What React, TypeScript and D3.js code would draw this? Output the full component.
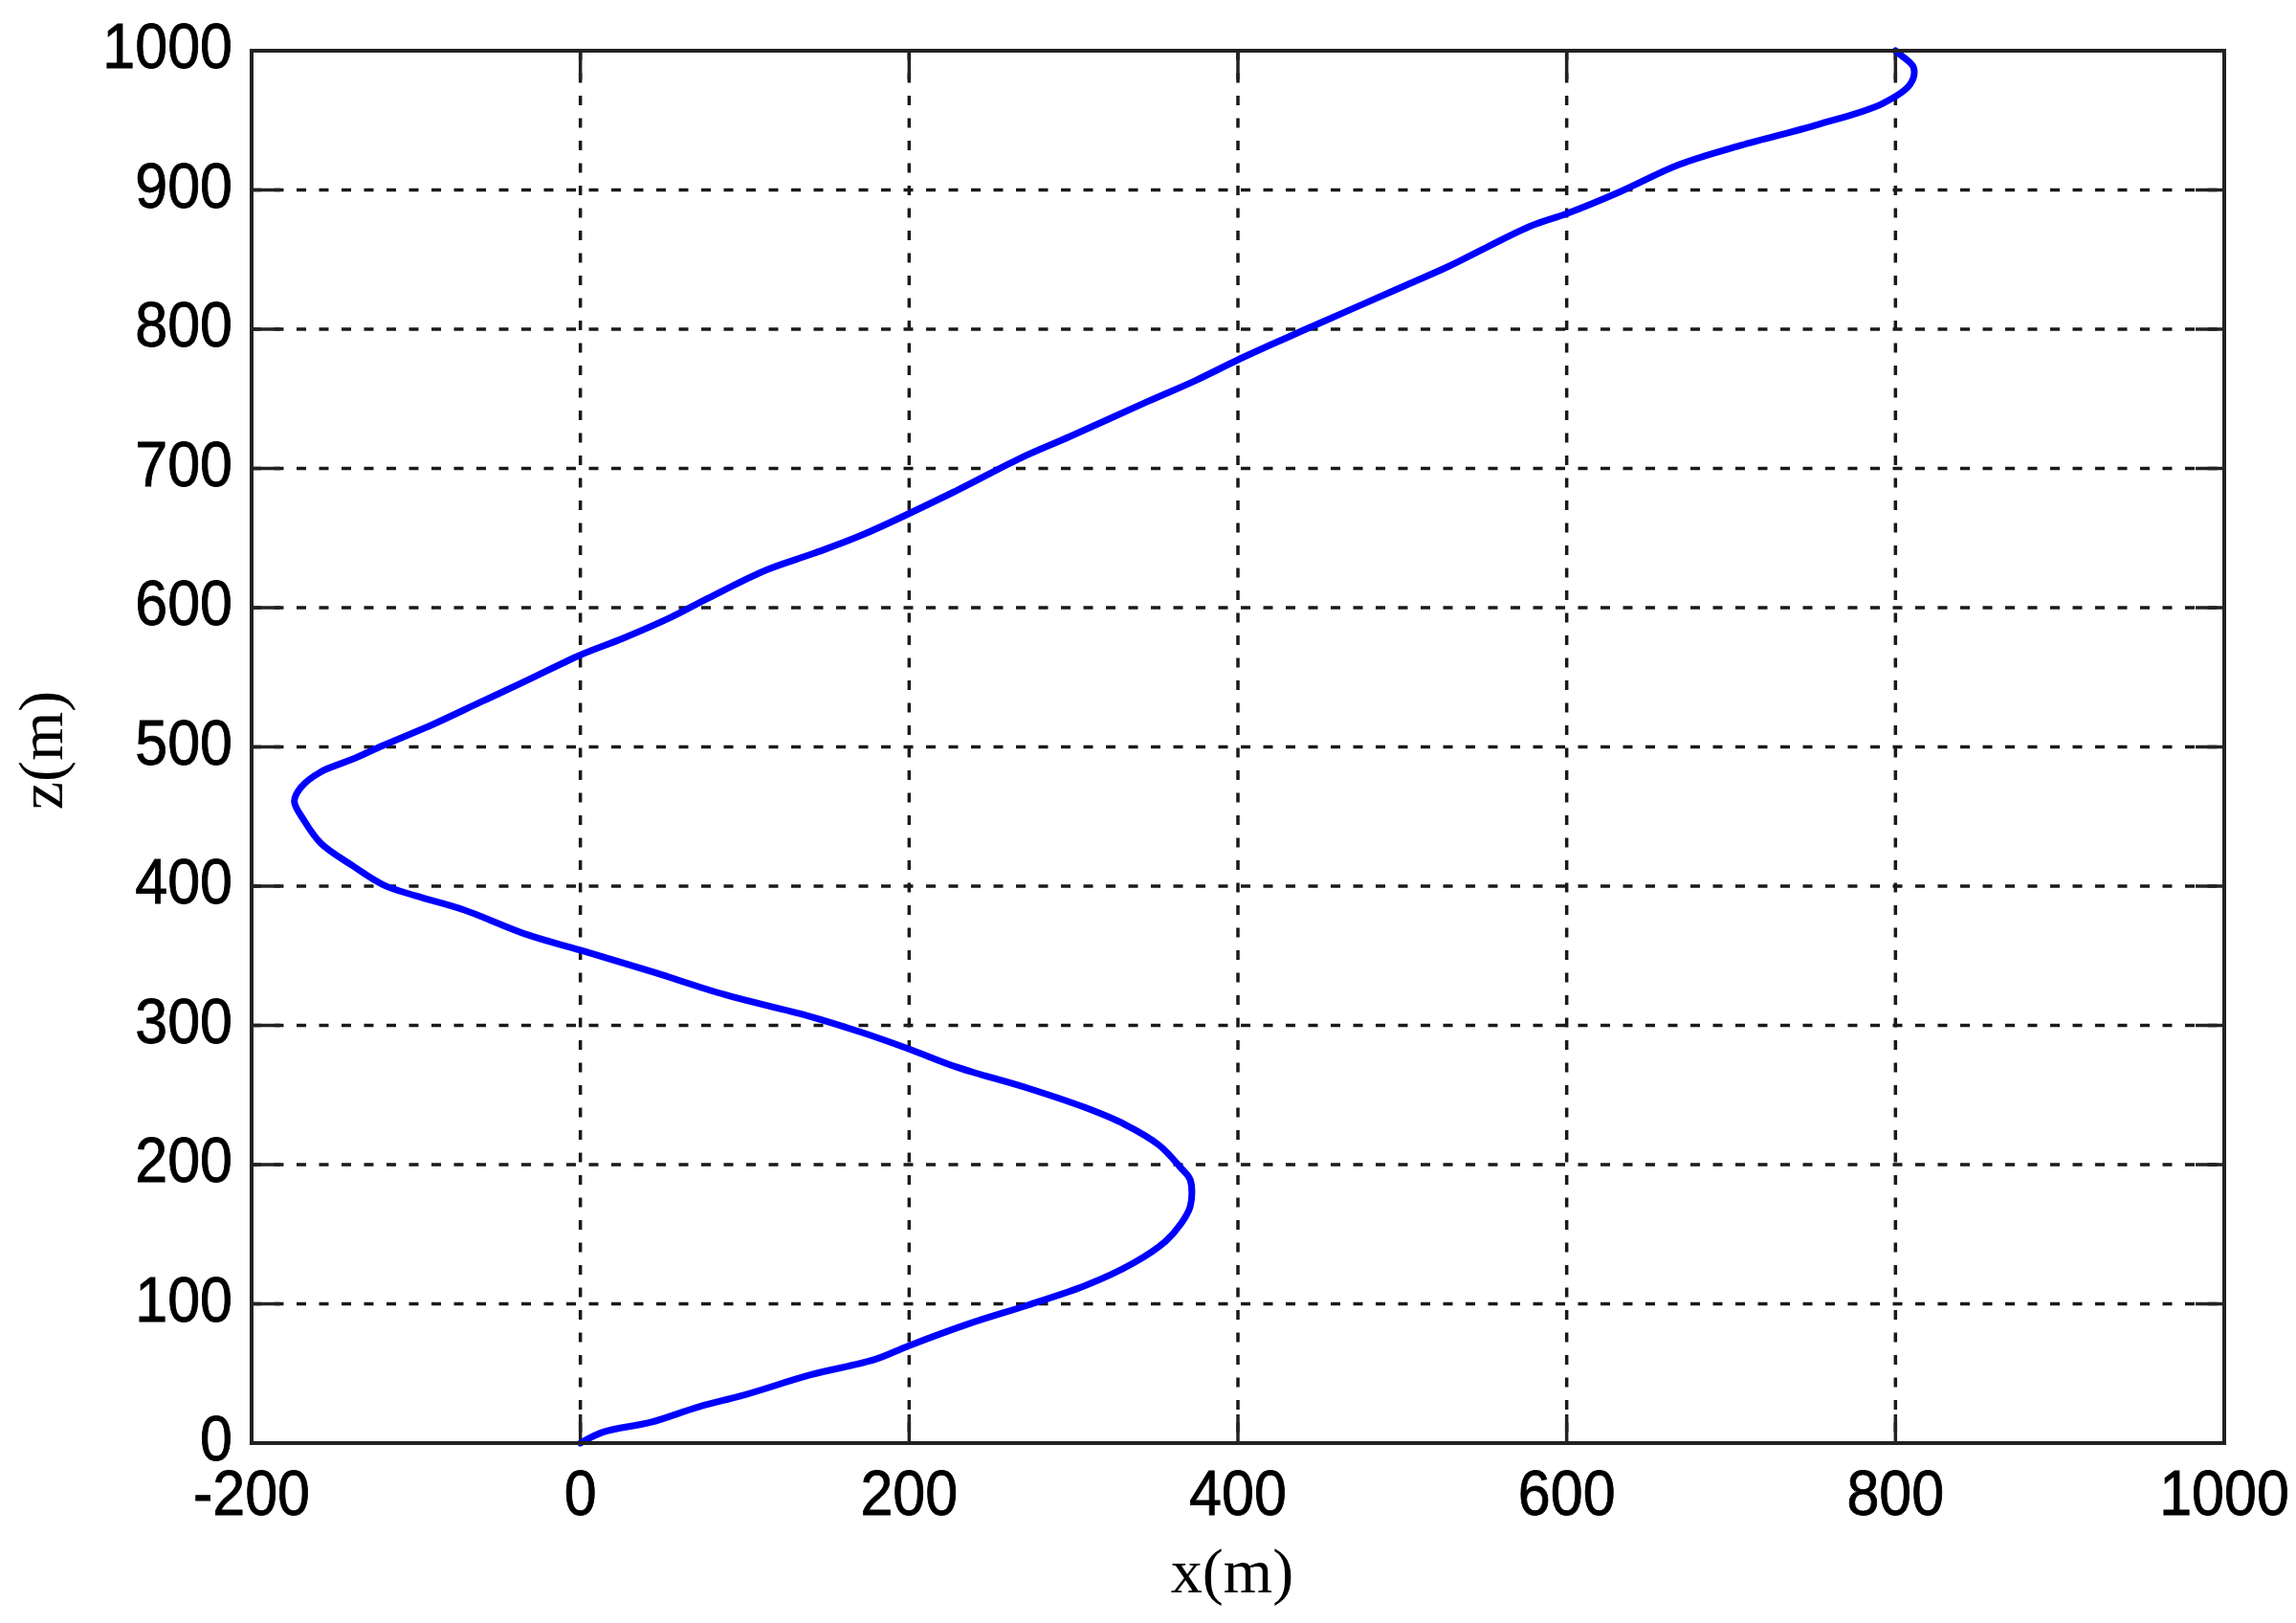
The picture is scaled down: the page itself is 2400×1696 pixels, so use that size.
import React from "react";
import * as d3 from "d3";

const xValues = [0, 14, 43, 72, 101, 140, 179, 200, 237, 272, 307, 336, 356, 365, 371, 371, 365, 352, 331, 307, 272, 229, 200, 171, 138, 88, 45, 0, -32, -71, -100, -120, -139, -158, -168, -174, -170, -158, -139, -120, -90, -61, -32, 0, 26, 55, 78, 113, 142, 171, 227, 267, 298, 345, 374, 400, 428, 451, 478, 503, 528, 578, 600, 633, 668, 706, 753, 792, 809, 811, 802, 800];
const zValues = [0, 8, 15, 26, 35, 49, 60, 70, 86, 99, 113, 129, 145, 157, 170, 189, 198, 214, 229, 241, 255, 270, 283, 295, 307, 322, 338, 354, 365, 383, 393, 401, 415, 431, 447, 461, 471, 482, 491, 501, 516, 532, 548, 566, 578, 593, 607, 627, 639, 652, 683, 707, 723, 748, 763, 778, 793, 805, 819, 832, 845, 874, 883, 899, 918, 932, 947, 962, 976, 988, 998, 1000];
const xTicks = [-200, 0, 200, 400, 600, 800, 1000];
const zTicks = [0, 100, 200, 300, 400, 500, 600, 700, 800, 900, 1000];
const xLabel = "x(m)";
const zLabel = "z(m)";

const W = 2400;
const H = 1696;
const L = 263, R = 2325, T = 53, B = 1508;

export default function App() {
  const x = d3.scaleLinear().domain([-200, 1000]).range([L, R]);
  const y = d3.scaleLinear().domain([0, 1000]).range([B, T]);
  const pts: [number, number][] = xValues.map((v, i) => [v, zValues[i]]);
  const line = d3
    .line<[number, number]>()
    .x(d => x(d[0]))
    .y(d => y(d[1]))
    .curve(d3.curveCatmullRom.alpha(0.5));
  const axisColor = "#222";
  const tickLen = 30;
  const fontSans = "Arial, 'Liberation Sans', sans-serif";
  const fontSerif = "'Times New Roman', 'Liberation Serif', serif";
  const sy = 1.09;
  return (
    <svg width={W} height={H} style={{ position: "absolute", left: 0, top: 0, background: "#fff" }}>
      <rect x={0} y={0} width={W} height={H} fill="#fff" />
      {xTicks.slice(1, -1).map(t => (
        <line key={"gx" + t} x1={x(t)} x2={x(t)} y1={T} y2={B} stroke="#1a1a1a" strokeWidth={3.5} strokeDasharray="10,13.5" />
      ))}
      {zTicks.slice(1, -1).map(t => (
        <line key={"gz" + t} x1={L} x2={R} y1={y(t)} y2={y(t)} stroke="#1a1a1a" strokeWidth={3.5} strokeDasharray="10,13.5" />
      ))}
      {xTicks.map(t => (
        <g key={"tx" + t}>
          <line x1={x(t)} x2={x(t)} y1={B} y2={B - tickLen} stroke={axisColor} strokeWidth={3.5} />
          <line x1={x(t)} x2={x(t)} y1={T} y2={T + tickLen} stroke={axisColor} strokeWidth={3.5} />
        </g>
      ))}
      {zTicks.map(t => (
        <g key={"tz" + t}>
          <line x1={L} x2={L + tickLen} y1={y(t)} y2={y(t)} stroke={axisColor} strokeWidth={3.5} />
          <line x1={R} x2={R - tickLen} y1={y(t)} y2={y(t)} stroke={axisColor} strokeWidth={3.5} />
        </g>
      ))}
      <path d={line(pts) || ""} fill="none" stroke="#0000ff" strokeWidth={7} strokeLinejoin="round" strokeLinecap="round" />
      <rect x={L} y={T} width={R - L} height={B - T} fill="none" stroke={axisColor} strokeWidth={4} />
      {xTicks.map(t => (
        <text key={"lx" + t} transform={`translate(${x(t)},1583) scale(1,${sy})`} textAnchor="middle" fontFamily={fontSans} fontSize={61} fill="#000" stroke="#000" strokeWidth={0.8}>{t}</text>
      ))}
      {zTicks.map(t => (
        <text key={"lz" + t} transform={`translate(243,${y(t) + 18}) scale(1,${sy})`} textAnchor="end" fontFamily={fontSans} fontSize={61} fill="#000" stroke="#000" strokeWidth={0.8}>{t}</text>
      ))}
      <text x={1288} y={1664} textAnchor="middle" fontFamily={fontSerif} fontSize={66} fill="#000">{xLabel}</text>
      <text transform={`translate(65,784) rotate(-90)`} textAnchor="middle" fontFamily={fontSerif} fontSize={66} fill="#000">{zLabel}</text>
    </svg>
  );
}
